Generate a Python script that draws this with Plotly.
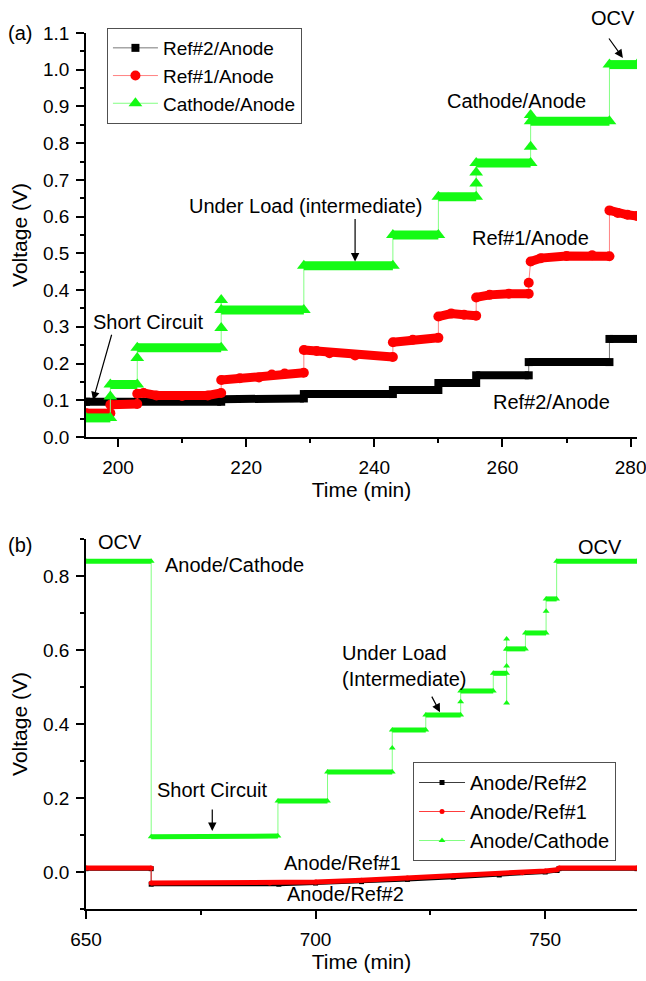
import plotly.graph_objects as go

# ---------------- Panel (a) data ----------------
# Ref#2/Anode
a_ref2_t = [195.0, 216.1, 216.1, 229.0, 229.0, 242.9, 242.9, 250.0, 250.0, 255.9,
            255.9, 264.1, 264.1, 276.7, 276.7, 281.0]
a_ref2_v = [0.096, 0.096, 0.103, 0.105, 0.117, 0.117, 0.128, 0.128, 0.147, 0.147,
            0.168, 0.168, 0.204, 0.204, 0.267, 0.267]
a_ref2_seg = [0, 0, 1, 1, 2, 2, 3, 3, 4, 4, 5, 5, 6, 6, 7, 7]

# Ref#1/Anode
a_ref1_t = [195.0, 198.8, 198.8, 203.0, 203.0, 204.0, 206.0, 210.0, 214.0, 216.1,
            216.1, 219.0, 222.0, 224.0, 226.0, 229.0,
            229.0, 231.0, 233.0, 237.0, 242.9,
            242.9, 246.0, 250.0,
            250.0, 252.0, 254.0, 255.9,
            255.9, 258.0, 261.0, 264.1,
            264.1,
            264.4, 266.0, 270.0, 274.0, 276.7,
            276.7, 278.0, 279.5, 281.0]
a_ref1_v = [0.065, 0.065, 0.088, 0.090, 0.118, 0.120, 0.113, 0.112, 0.113, 0.120,
            0.155, 0.160, 0.162, 0.170, 0.173, 0.175,
            0.237, 0.234, 0.228, 0.222, 0.218,
            0.258, 0.265, 0.270,
            0.328, 0.336, 0.333, 0.330,
            0.380, 0.387, 0.390, 0.390,
            0.420,
            0.478, 0.487, 0.493, 0.495, 0.492,
            0.617, 0.610, 0.605, 0.602]
a_ref1_seg = [0, 0, 1, 1, 2, 2, 2, 2, 2, 2,
              3, 3, 3, 3, 3, 3,
              4, 4, 4, 4, 4,
              5, 5, 5,
              6, 6, 6, 6,
              7, 7, 7, 7,
              8,
              9, 9, 9, 9, 9,
              10, 10, 10, 10]

# Cathode/Anode
a_cath_t = [195.0, 198.8, 198.8, 198.8, 203.0, 203.0, 203.0, 216.1, 216.1, 216.1,
            216.1, 229.0, 229.0, 242.9, 242.9, 250.0, 250.0, 255.9, 255.9, 255.9,
            255.9, 264.4, 264.4, 264.4, 264.4, 276.7, 276.7, 281.0]
a_cath_v = [0.052, 0.052, 0.110, 0.143, 0.143, 0.215, 0.243, 0.243, 0.297, 0.373,
            0.346, 0.346, 0.466, 0.466, 0.550, 0.550, 0.654, 0.654, 0.690, 0.720,
            0.746, 0.746, 0.790, 0.877, 0.860, 0.860, 1.014, 1.014]
a_cath_seg = [0, 0, 1, 2, 2, 3, 4, 4, 5, 6,
              7, 7, 8, 8, 9, 9, 10, 10, 11, 12,
              13, 13, 14, 15, 16, 16, 17, 17]

# ---------------- Panel (b) data ----------------
b_ref2_t = [650.0, 664.2, 664.2, 692.0, 700.0, 710.0, 720.0, 730.0, 740.0, 750.0, 752.6,
            753.0, 770.0]
b_ref2_v = [0.009, 0.009, -0.033, -0.033, -0.030, -0.026, -0.020, -0.014, -0.008, 0.000, 0.004,
            0.009, 0.009]
b_ref2_seg = [0, 0, 1, 1, 1, 1, 1, 1, 1, 1, 1, 2, 2]

b_ref1_t = [650.0, 664.2, 664.2, 690.0, 700.0, 710.0, 720.0, 730.0, 740.0, 745.0, 750.0,
            752.6, 753.0, 770.0]
b_ref1_v = [0.011, 0.011, -0.030, -0.030, -0.027, -0.022, -0.016, -0.010, -0.004, -0.002, 0.003,
            0.006, 0.011, 0.011]
b_ref1_seg = [0, 0, 1, 1, 1, 1, 1, 1, 1, 1, 1, 1, 2, 2]

b_cath_t = [650.0, 664.2, 664.2, 691.8, 691.8, 702.6, 702.6, 716.7, 716.7, 716.7,
            724.0, 724.0, 731.6, 731.6, 731.6, 738.7, 738.7, 741.6, 741.6, 741.6,
            741.6, 741.6, 741.6, 745.7, 745.7, 750.2, 750.2, 750.2, 752.5, 752.5,
            770.0]
b_cath_v = [0.840, 0.840, 0.095, 0.097, 0.192, 0.192, 0.270, 0.270, 0.335, 0.384,
            0.384, 0.424, 0.424, 0.460, 0.489, 0.489, 0.537, 0.537, 0.457, 0.557,
            0.630, 0.603, 0.603, 0.603, 0.646, 0.646, 0.705, 0.738, 0.738, 0.840,
            0.840]
b_cath_seg = [0, 0, 1, 1, 2, 2, 3, 3, 4, 5,
              5, 6, 6, 7, 8, 8, 9, 9, 10, 11,
              12, 13, 13, 13, 14, 14, 15, 16, 16, 17,
              17]

GREEN = "rgb(20,250,20)"
LGREEN = "rgb(130,255,130)"
RED = "rgb(255,0,0)"
LRED = "rgb(255,130,130)"
BLACK = "black"
GRAY = "rgb(120,120,120)"


def plateau_xy(t, v, seg):
    xs, ys = [], []
    for i in range(len(t)):
        if i > 0 and seg[i] != seg[i - 1]:
            xs.append(None)
            ys.append(None)
        xs.append(t[i])
        ys.append(v[i])
    return xs, ys


fig = go.Figure()


def add_series(t, v, seg, name, color, lcolor, width, symbol, msize, xa, ya, legend):
    fig.add_trace(go.Scatter(x=t, y=v, mode="lines+markers", name=name,
                             line=dict(color=lcolor, width=1),
                             marker=dict(symbol=symbol, size=msize, color=color,
                                         line=dict(width=0)),
                             xaxis=xa, yaxis=ya, legend=legend))
    px, py = plateau_xy(t, v, seg)
    fig.add_trace(go.Scatter(x=px, y=py, mode="lines", line=dict(color=color, width=width),
                             showlegend=False, hoverinfo="skip", xaxis=xa, yaxis=ya,
                             connectgaps=False))


add_series(a_ref2_t, a_ref2_v, a_ref2_seg, "Ref#2/Anode", BLACK, GRAY, 8, "square", 8, "x", "y", "legend")
add_series(a_ref1_t, a_ref1_v, a_ref1_seg, "Ref#1/Anode", RED, LRED, 9, "circle", 10, "x", "y", "legend")
add_series(a_cath_t, a_cath_v, a_cath_seg, "Cathode/Anode", GREEN, LGREEN, 9, "triangle-up", 12, "x", "y", "legend")

add_series(b_ref2_t, b_ref2_v, b_ref2_seg, "Anode/Ref#2", BLACK, "rgb(60,60,60)", 4, "square", 5, "x2", "y2", "legend2")
add_series(b_ref1_t, b_ref1_v, b_ref1_seg, "Anode/Ref#1", RED, "rgb(255,60,60)", 5, "circle", 5, "x2", "y2", "legend2")
add_series(b_cath_t, b_cath_v, b_cath_seg, "Anode/Cathode", GREEN, LGREEN, 5, "triangle-up", 6, "x2", "y2", "legend2")

FONT = "Liberation Sans, Arial, sans-serif"

axis_common = dict(showline=True, linewidth=1.5, linecolor="black", showgrid=False,
                   zeroline=False, ticks="outside", ticklen=8, tickwidth=1.5,
                   tickcolor="black", mirror=False, ticklabeloverflow="allow",
                   automargin=False,
                   tickfont=dict(size=19, color="black", family=FONT))

minor_common = dict(ticks="outside", ticklen=4, tickwidth=1.5, tickcolor="black", showgrid=False)

fig.update_layout(
    width=646, height=981,
    margin=dict(l=86, r=9, t=33, b=72, autoexpand=False),
    plot_bgcolor="white", paper_bgcolor="white",
    font=dict(family=FONT, size=19, color="black"),
    xaxis=dict(domain=[0, 1], anchor="y", range=[195, 281], tick0=200, dtick=20,
               minor=dict(tick0=200, dtick=10, **minor_common),
               ticklabelstandoff=4,
               title=dict(text="Time (min)", standoff=6, font=dict(size=21)),
               **axis_common),
    yaxis=dict(domain=[0.5388, 1], anchor="x", range=[0, 1.1], tick0=0, dtick=0.1,
               tickformat=".1f",
               minor=dict(tick0=0, dtick=0.05, **minor_common),
               ticklabelstandoff=3,
               title=dict(text="Voltage (V)", standoff=10, font=dict(size=21)),
               **axis_common),
    xaxis2=dict(domain=[0, 1], anchor="y2", range=[650, 770], tick0=650, dtick=50,
                minor=dict(tick0=650, dtick=25, **minor_common),
                ticklabelstandoff=4,
                title=dict(text="Time (min)", standoff=6, font=dict(size=21)),
                **axis_common),
    yaxis2=dict(domain=[0, 0.4224], anchor="x2", range=[-0.1, 0.9],
                tickvals=[0.0, 0.2, 0.4, 0.6, 0.8], tickformat=".1f",
                minor=dict(tick0=0, dtick=0.1, **minor_common),
                ticklabelstandoff=3,
                title=dict(text="Voltage (V)", standoff=10, font=dict(size=21)),
                **axis_common),
    legend=dict(x=0.038, y=1.0057, xanchor="left", yanchor="top",
                bordercolor="rgb(80,80,80)", borderwidth=1, bgcolor="white",
                font=dict(size=19, family=FONT), tracegroupgap=0, itemwidth=45),
    legend2=dict(x=0.5935, y=0.1678, xanchor="left", yanchor="top",
                 bordercolor="rgb(80,80,80)", borderwidth=1, bgcolor="white",
                 font=dict(size=20, family=FONT), tracegroupgap=0, itemwidth=46),
)

ann = []


def text(x, y, s, xref="x", yref="y", xanchor="center", align="center", size=20):
    ann.append(dict(x=x, y=y, xref=xref, yref=yref, text=s, showarrow=False,
                    xanchor=xanchor, yanchor="middle", align=align,
                    font=dict(size=size, color="black", family=FONT)))


def arrow(x, y, ax, ay, xref="x", yref="y"):
    ann.append(dict(x=x, y=y, xref=xref, yref=yref, text="", showarrow=True,
                    ax=ax, ay=ay, arrowhead=2, arrowsize=1.4, arrowwidth=1.2,
                    arrowcolor="black"))


# Panel (a)
text(-0.12, 1.1, "(a)", xref="paper", yref="y")
text(204.6, 0.313, "Short Circuit")
arrow(196.1, 0.10, 19, -67)
text(229.3, 0.629, "Under Load (intermediate)")
arrow(237.0, 0.478, 0, -44)
text(262.2, 0.915, "Cathode/Anode")
text(277.2, 1.017, "OCV", yref="paper")
arrow(278.8, 1.032, -15, -21)
text(264.4, 0.542, "Ref#1/Anode")
text(267.6, 0.095, "Ref#2/Anode")

# Panel (b)
text(-0.12, 0.884, "(b)", xref="paper", yref="y2")
text(657.4, 0.892, "OCV", xref="x2", yref="y2")
text(682.3, 0.83, "Anode/Cathode", xref="x2", yref="y2")
text(677.5, 0.222, "Short Circuit", xref="x2", yref="y2")
arrow(677.5, 0.111, 0, -23, xref="x2", yref="y2")
text(705.4, 0.557, "Under Load<br>(Intermediate)", xref="x2", yref="y2", xanchor="left", align="left")
arrow(727.1, 0.432, -9, -17, xref="x2", yref="y2")
text(761.9, 0.878, "OCV", xref="x2", yref="y2")
text(705.8, 0.024, "Anode/Ref#1", xref="x2", yref="y2")
text(706.5, -0.059, "Anode/Ref#2", xref="x2", yref="y2")

fig.update_layout(annotations=ann)

fig.write_html("out.html")
